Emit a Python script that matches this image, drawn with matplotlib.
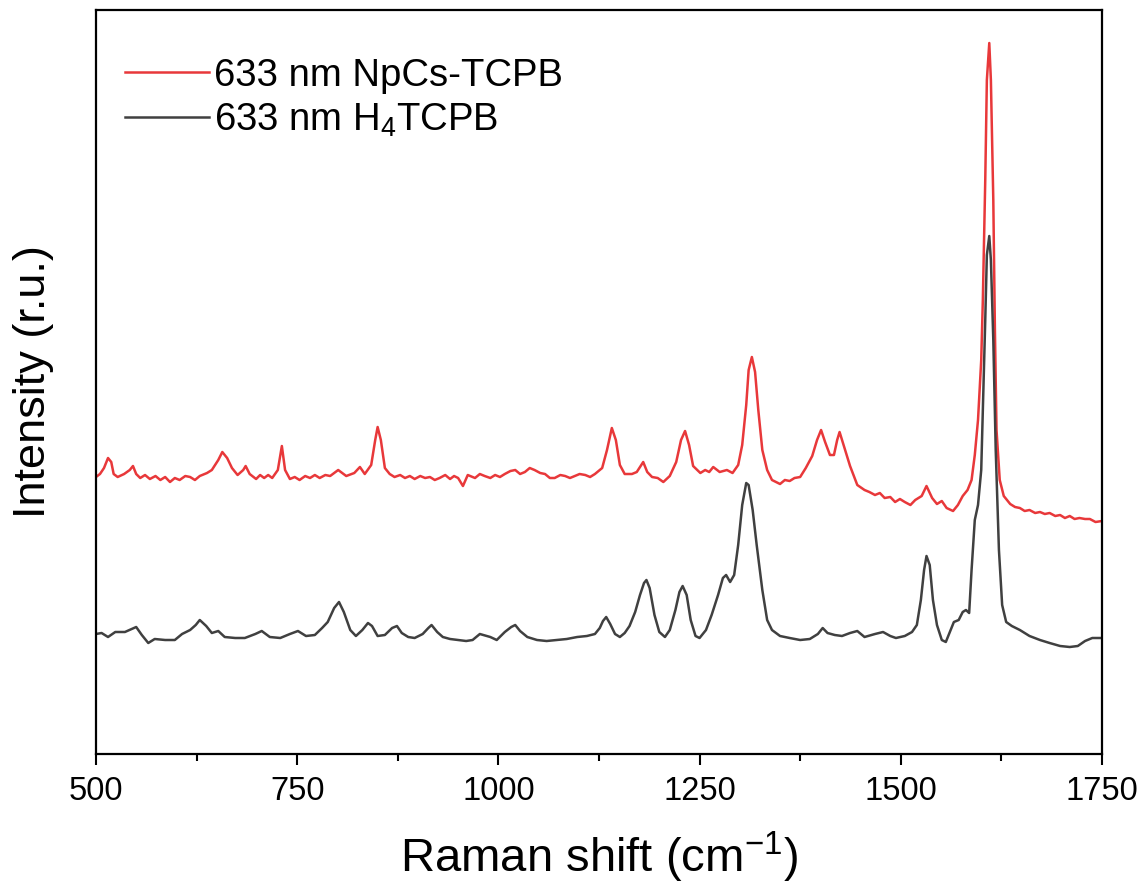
import numpy as np
import matplotlib
matplotlib.use("Agg")
import matplotlib.pyplot as plt
from matplotlib.ticker import MultipleLocator

plt.rcParams['font.family'] = ['Liberation Sans', 'DejaVu Sans']
plt.rcParams['mathtext.fontset'] = 'custom'
plt.rcParams['mathtext.rm'] = 'Liberation Sans'
plt.rcParams['mathtext.it'] = 'Liberation Sans:italic'

# Raman shift (cm-1) and intensity (r.u.)
npcs_shift = [500, 505, 510, 515, 519, 522, 527, 535, 542, 546, 550, 555, 561, 567, 574, 580, 586,
              592, 598, 604, 611, 617, 623, 629, 638, 644, 652, 657, 663, 669, 676, 683, 686, 691,
              699, 704, 709, 714, 719, 726, 731, 735, 741, 747, 753, 760, 766, 772, 778, 785, 791,
              801, 811, 821, 828, 834, 842, 847, 850, 854, 859, 865, 871, 878, 884, 890, 896, 903,
              909, 915, 921, 927, 934, 940, 945, 950, 956, 962, 971, 977, 983, 990, 996, 1002, 1008,
              1015, 1021, 1027, 1033, 1039, 1045, 1052, 1058, 1064, 1070, 1077, 1083, 1089, 1095,
              1101, 1108, 1114, 1120, 1129, 1135, 1141, 1146, 1151, 1157, 1166, 1172, 1180, 1185,
              1191, 1198, 1205, 1213, 1221, 1227, 1232, 1237, 1242, 1251, 1257, 1262, 1267, 1275,
              1284, 1291, 1298, 1303, 1308, 1311, 1315, 1319, 1323, 1328, 1334, 1340, 1345, 1350,
              1356, 1362, 1368, 1375, 1382, 1390, 1396, 1401, 1406, 1412, 1417, 1421, 1424, 1429,
              1437, 1446, 1455, 1461, 1468, 1474, 1480, 1487, 1493, 1499, 1505, 1512, 1518, 1526,
              1532, 1539, 1545, 1551, 1557, 1565, 1571, 1577, 1583, 1588, 1592, 1596, 1600, 1602,
              1605, 1607, 1610, 1612, 1615, 1617, 1619, 1623, 1628, 1636, 1642, 1648, 1654, 1660,
              1667, 1673, 1679, 1685, 1692, 1698, 1704, 1710, 1716, 1722, 1729, 1735, 1742, 1750]
npcs_int = [277, 280, 286, 296, 292, 280, 277, 280, 284, 288, 280, 276, 279, 275, 278, 274, 277,
            272, 276, 274, 278, 277, 274, 278, 281, 284, 294, 302, 296, 286, 279, 284, 288, 280,
            275, 279, 276, 279, 276, 284, 308, 284, 275, 277, 274, 278, 276, 279, 276, 279, 278,
            284, 278, 281, 287, 280, 289, 314, 327, 314, 286, 280, 277, 279, 276, 278, 275, 278,
            276, 277, 274, 276, 279, 275, 278, 276, 268, 279, 276, 280, 278, 276, 279, 277, 280,
            283, 284, 280, 282, 286, 284, 281, 280, 276, 276, 279, 278, 276, 278,
            280, 279, 277, 280, 286, 304, 326, 314, 289, 280, 280, 282, 292, 282,
            277, 276, 272, 278, 292, 314, 323, 309, 288, 281, 284, 282, 287, 282,
            284, 281, 289, 309, 349, 384, 397, 382, 344, 304, 284, 274, 272, 270,
            274, 273, 276, 277, 286, 298, 314, 324, 312, 299, 299, 314, 322, 309,
            288, 269, 264, 262, 259, 261, 256, 257, 252, 255, 252, 249, 254, 258,
            268, 256, 250, 253, 246, 243, 249, 258, 264, 274, 299, 334, 394, 454,
            574, 674, 711, 674, 554, 424, 324, 274, 258, 250, 247, 246, 243, 244,
            241, 242, 240, 241, 238, 239, 236, 238, 235, 236, 235, 235, 232, 233]

h4tcpb_shift = [500, 507, 515, 524, 536, 550, 557, 565, 573, 586, 598, 607, 617, 624, 629, 637, 644,
                652, 660, 673, 685, 698, 706, 716, 729, 741, 751, 761, 772, 781, 788, 796, 802, 808,
                816, 823, 831, 838, 843, 850, 859, 868, 874, 880, 888, 896, 906, 913, 917, 924, 931,
                940, 950, 960, 968, 977, 990, 998, 1008, 1016, 1021, 1027, 1036, 1048, 1060, 1073,
                1085, 1098, 1110, 1120, 1126, 1130, 1134, 1139, 1145, 1151, 1157, 1163, 1170, 1176,
                1181, 1184, 1188, 1194, 1200, 1207, 1213, 1220, 1225, 1229, 1234, 1239, 1245, 1250,
                1258, 1265, 1273, 1279, 1283, 1288, 1293, 1298, 1303, 1308, 1311, 1316, 1321, 1328,
                1334, 1340, 1350, 1362, 1375, 1387, 1397, 1403, 1409, 1418, 1427, 1437, 1446, 1455,
                1468, 1478, 1487, 1494, 1505, 1514, 1520, 1525, 1529, 1532, 1536, 1540, 1545, 1551,
                1556, 1561, 1566, 1572, 1577, 1581, 1585, 1588, 1592, 1596, 1600, 1602, 1605, 1607,
                1610, 1612, 1615, 1618, 1622, 1626, 1631, 1638, 1648, 1660, 1673, 1685, 1698, 1710,
                1720, 1729, 1738, 1750]
h4tcpb_int = [120, 121, 117, 122, 122, 127, 119, 111, 115, 114, 114, 120, 124, 129, 134, 128, 121,
              123, 117, 116, 116, 120, 123, 117, 116, 120, 123, 118, 119, 126, 132, 146, 152, 142,
              124, 118, 124, 131, 128, 118, 119, 126, 128, 121, 117, 116, 120, 126, 129, 122, 117,
              115, 114, 113, 114, 120, 117, 114, 122, 127, 129, 123, 117, 114, 113, 114,
              115, 117, 118, 120, 126, 133, 137, 130, 120, 117, 121, 128, 142, 159,
              171, 174, 166, 139, 122, 117, 124, 144, 162, 168, 159, 134, 118, 116,
              124, 139, 159, 176, 179, 172, 179, 209, 249, 271, 269, 244, 209, 164,
              134, 124, 118, 116, 114, 115, 120, 126, 121, 119, 118, 121, 123, 117,
              120, 122, 118, 116, 118, 122, 129, 154, 184, 198, 189, 154, 129, 114,
              112, 122, 132, 134, 142, 144, 141, 184, 234, 249, 284, 344, 434, 499,
              518, 494, 414, 304, 204, 149, 132, 128, 124, 118, 114, 111, 108, 107,
              108, 113, 116, 116]

fig = plt.figure(figsize=(11.45, 8.94), dpi=100)
ax = fig.add_axes([0.0838, 0.1566, 0.8786, 0.8322])

red = '#E8383A'
grey = '#404040'
ax.plot(npcs_shift, npcs_int, color=red, lw=1.8, label='633 nm NpCs-TCPB')
ax.plot(h4tcpb_shift, h4tcpb_int, color=grey, lw=1.8, label='633 nm H$_4$TCPB')

ax.set_xlim(500, 1750)
ax.set_ylim(0, 744)
ax.xaxis.set_major_locator(MultipleLocator(250))
ax.xaxis.set_minor_locator(MultipleLocator(125))
ax.set_yticks([])
ax.tick_params(axis='x', which='major', direction='out', length=8, width=1.5, labelsize=23.5, pad=8)
ax.tick_params(axis='x', which='minor', direction='out', length=5, width=1.5)
for s in ax.spines.values():
    s.set_linewidth(1.6)

ax.set_xlabel('Raman shift (cm$^{-1}$)', fontsize=34, labelpad=16)
ax.set_ylabel('Intensity (r.u.)', fontsize=32.5, labelpad=30)

ax.legend(loc='upper left', bbox_to_anchor=(-0.005, 0.982), frameon=False, fontsize=27.5,
          handlelength=2.2, handletextpad=0.13, labelspacing=0.2, borderaxespad=0.5)

fig.savefig('out.png', dpi=100)
